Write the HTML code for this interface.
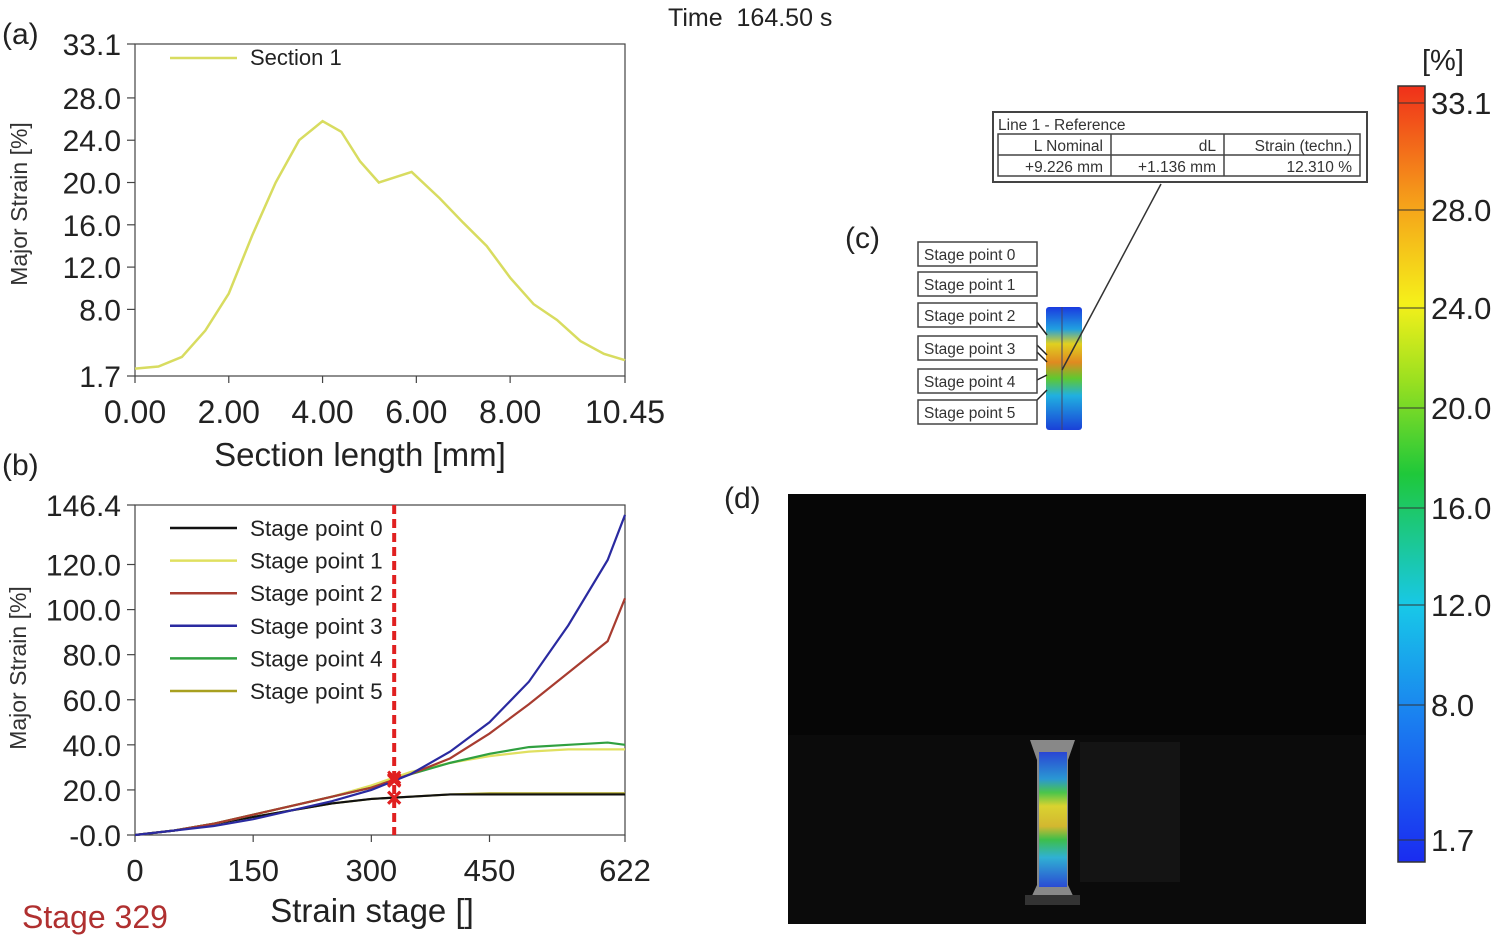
<!DOCTYPE html>
<html><head><meta charset="utf-8"><style>
body{margin:0;background:#fff;}
svg{display:block;font-family:"Liberation Sans",Arial,sans-serif;}
</style></head><body>
<svg id="fig" width="1500" height="945" viewBox="0 0 1500 945">
<defs>
<linearGradient id="cbar" x1="0" y1="1" x2="0" y2="0">
<stop offset="0" stop-color="#1a2cf0"/><stop offset="0.18" stop-color="#1a7df0"/>
<stop offset="0.33" stop-color="#18c8e8"/><stop offset="0.5" stop-color="#1fc83a"/>
<stop offset="0.62" stop-color="#9ae020"/><stop offset="0.72" stop-color="#f5f01a"/>
<stop offset="0.85" stop-color="#f5a01a"/><stop offset="1" stop-color="#f0301a"/>
</linearGradient>
<linearGradient id="spec" x1="0" y1="0" x2="0" y2="1">
<stop offset="0" stop-color="#1a3ae0"/><stop offset="0.2" stop-color="#1a9ae0"/>
<stop offset="0.3" stop-color="#40d040"/><stop offset="0.4" stop-color="#e8e020"/>
<stop offset="0.55" stop-color="#e0c020"/><stop offset="0.65" stop-color="#30c840"/>
<stop offset="0.78" stop-color="#20b8e0"/><stop offset="1" stop-color="#1a40e0"/>
</linearGradient>
<linearGradient id="spec2" x1="0" y1="0" x2="0" y2="1">
<stop offset="0" stop-color="#1a3ae0"/><stop offset="0.18" stop-color="#20a0e0"/>
<stop offset="0.3" stop-color="#e0d020"/><stop offset="0.45" stop-color="#e08a20"/>
<stop offset="0.58" stop-color="#60c830"/><stop offset="0.72" stop-color="#20b0e0"/>
<stop offset="1" stop-color="#1a40d8"/>
</linearGradient>
</defs>
<text x="668" y="26" font-size="25" fill="#222" xml:space="preserve">Time  164.50 s</text>
<text x="2" y="44" font-size="30" fill="#222">(a)</text>
<text x="2" y="475" font-size="30" fill="#222">(b)</text>
<text x="845" y="248" font-size="30" fill="#222">(c)</text>
<text x="724" y="508" font-size="30" fill="#222">(d)</text>
<g id="chartA"></g>
<g id="chartB"></g>
<text x="22" y="928" font-size="32" fill="#b03030">Stage 329</text>

<!-- panel c -->
<g>
<rect x="993" y="112" width="374" height="70" fill="#fff" stroke="#444" stroke-width="2"/>
<text x="998" y="130" font-size="15.5" fill="#333">Line 1 - Reference</text>
<rect x="998" y="134" width="362" height="42" fill="none" stroke="#444" stroke-width="1.5"/>
<line x1="998" y1="155" x2="1360" y2="155" stroke="#444" stroke-width="1.5"/>
<line x1="1111" y1="134" x2="1111" y2="176" stroke="#444" stroke-width="1.5"/>
<line x1="1224" y1="134" x2="1224" y2="176" stroke="#444" stroke-width="1.5"/>
<text x="1103" y="151" font-size="15.5" fill="#333" text-anchor="end">L Nominal</text>
<text x="1216" y="151" font-size="15.5" fill="#333" text-anchor="end">dL</text>
<text x="1352" y="151" font-size="15.5" fill="#333" text-anchor="end">Strain (techn.)</text>
<text x="1103" y="172" font-size="15.5" fill="#333" text-anchor="end">+9.226 mm</text>
<text x="1216" y="172" font-size="15.5" fill="#333" text-anchor="end">+1.136 mm</text>
<text x="1352" y="172" font-size="15.5" fill="#333" text-anchor="end">12.310 %</text>
<rect x="1046" y="307" width="36" height="123" rx="3" fill="url(#spec2)"/>
<line x1="1062" y1="307" x2="1062" y2="430" stroke="#446" stroke-width="1"/>
<line x1="1161" y1="184" x2="1062" y2="370" stroke="#333" stroke-width="1.5"/>
<g stroke="#222" stroke-width="1.5">
<line x1="1037" y1="322" x2="1047" y2="335"/><line x1="1037" y1="345" x2="1047" y2="355"/>
<line x1="1037" y1="352" x2="1047" y2="362"/><line x1="1037" y1="380" x2="1047" y2="375"/>
<line x1="1037" y1="400" x2="1047" y2="390"/>
</g>
<g id="spBoxes"></g>
</g>

<!-- colorbar -->
<g>
<text x="1422" y="70" font-size="29" fill="#222">[%]</text>
<rect x="1398" y="86" width="27" height="776" fill="url(#cbar)" stroke="#333" stroke-width="1.5"/>
<g id="cbTicks"></g>
</g>

<!-- panel d -->
<g>
<rect x="788" y="494" width="578" height="430" fill="#060606"/>
<rect x="788" y="735" width="578" height="189" fill="#0b0b0b"/>
<rect x="1080" y="742" width="100" height="140" fill="#1a1a1a" opacity="0.6"/>
<path d="M1030 740 L1075 740 L1068 760 L1068 885 L1075 900 L1030 900 L1037 885 L1037 760 Z" fill="#888"/>
<rect x="1039" y="752" width="28" height="135" fill="url(#spec)" opacity="0.85"/>
<rect x="1025" y="895" width="55" height="10" fill="#333"/>
</g>
</svg>
<script>
// ---- Panel (a) data ----
const secX=[0,0.5,1,1.5,2,2.5,3,3.5,4,4.4,4.8,5.2,5.9,6.5,7,7.5,8,8.5,9,9.5,10,10.45];
const secY=[2.4,2.6,3.5,6,9.5,15,20,24,25.8,24.8,22,20,21,18.5,16.2,14,11,8.5,7,5,3.8,3.2];
const aYTicks=[33.1,28.0,24.0,20.0,16.0,12.0,8.0,1.7];
const aXTicks=[0,2,4,6,8,10.45];
// ---- Panel (b) data ----
const stages=[0,50,100,150,200,250,300,350,400,450,500,550,600,622];
const sp0=[0,2,5,8,11,14,16,17,18,18,18,18,18,18];
const sp1=[0,2,5,9,13,17,22,28,32,35,37,38,38,38];
const sp2=[0,2,5,9,13,17,21,27,34,45,58,72,86,105];
const sp3=[0,2,4,7,11,15,20,27,37,50,68,93,122,142];
const sp4=[0,2,5,9,13,17,21,27,32,36,39,40,41,40];
const sp5=[0,2,5,8,11,14,16,17,18,18.5,18.5,18.5,18.5,18.5];
const bYTicks=[146.4,120,100,80,60,40,20,0];
const bXTicks=[0,150,300,450,622];
const curStage=329;
const cbTicks=[33.1,28.0,24.0,20.0,16.0,12.0,8.0,1.7];
const cbPos=[103,210,308,408,508,605,705,840];
const spNames=["Stage point 0","Stage point 1","Stage point 2","Stage point 3","Stage point 4","Stage point 5"];

const NS="http://www.w3.org/2000/svg";
function mk(tag,attrs,parent,txt){const e=document.createElementNS(NS,tag);for(const k in attrs)e.setAttribute(k,attrs[k]);if(txt!==undefined)e.textContent=txt;parent.appendChild(e);return e;}

// Chart A
(function(){
const g=document.getElementById('chartA');
const x0=135,x1=625,y0=376,y1=44;
const xs=v=>x0+(v/10.45)*(x1-x0), ys=v=>y0-(v-1.7)/(33.1-1.7)*(y0-y1);
mk('rect',{x:x0,y:y1,width:x1-x0,height:y0-y1,fill:'none',stroke:'#444','stroke-width':1.2},g);
aYTicks.forEach(t=>{const y=ys(t);
mk('line',{x1:x0-8,y1:y,x2:x0,y2:y,stroke:'#444','stroke-width':1.2},g);
const tx=mk('text',{x:x0-14,y:y+11,'font-size':30,'text-anchor':'end',fill:'#222'},g,t.toFixed(1));
});
aXTicks.forEach(t=>{const x=xs(t);
mk('line',{x1:x,y1:y0,x2:x,y2:y0+7,stroke:'#444','stroke-width':1.2},g);
const tx=mk('text',{x:x,y:y0+47,'font-size':32,'text-anchor':'middle',fill:'#222'},g,t.toFixed(2));
});
const yt=mk('text',{x:27,y:y0-172,'font-size':23,'text-anchor':'middle',fill:'#333',transform:`rotate(-90 27 ${y0-172})`},g,'Major Strain [%]');

const xt=mk('text',{x:360,y:466,'font-size':33,'text-anchor':'middle',fill:'#222'},g,'Section length [mm]');

const p=mk('polyline',{points:secX.map((v,i)=>xs(v)+','+ys(secY[i])).join(' '),fill:'none',stroke:'#d8dc60','stroke-width':2.5},g);

mk('line',{x1:170,y1:58,x2:237,y2:58,stroke:'#d8dc60','stroke-width':2.5},g);
const lt=mk('text',{x:250,y:65,'font-size':22,fill:'#222'},g,'Section 1');

})();

// Chart B
(function(){
const g=document.getElementById('chartB');
const x0=135,x1=625,y0=835,y1=505;
const xs=v=>x0+(v/622)*(x1-x0), ys=v=>y0-(v/146.4)*(y0-y1);
mk('rect',{x:x0,y:y1,width:x1-x0,height:y0-y1,fill:'none',stroke:'#444','stroke-width':1.2},g);
bYTicks.forEach(t=>{const y=ys(t);
mk('line',{x1:x0-8,y1:y,x2:x0,y2:y,stroke:'#444','stroke-width':1.2},g);
const tx=mk('text',{x:x0-14,y:y+11,'font-size':30,'text-anchor':'end',fill:'#222'},g,t===0?'-0.0':t.toFixed(1));
});
bXTicks.forEach(t=>{const x=xs(t);
mk('line',{x1:x,y1:y0,x2:x,y2:y0+7,stroke:'#444','stroke-width':1.2},g);
const tx=mk('text',{x:x,y:y0+46,'font-size':31,'text-anchor':'middle',fill:'#222'},g,String(t));
});
const yt=mk('text',{x:26,y:y0-167,'font-size':23,'text-anchor':'middle',fill:'#333',transform:`rotate(-90 26 ${y0-167})`},g,'Major Strain [%]');

const xt=mk('text',{x:372,y:922,'font-size':33,'text-anchor':'middle',fill:'#222'},g,'Strain stage []');

const series=[[sp0,'#111'],[sp1,'#e0e060'],[sp2,'#a83c30'],[sp3,'#2a2aa0'],[sp4,'#30a040'],[sp5,'#a8a020']];
[5,0,1,4,2,3].forEach(i=>{const [d,c]=series[i];
const p=mk('polyline',{points:stages.map((s,j)=>xs(s)+','+ys(d[j])).join(' '),fill:'none',stroke:c,'stroke-width':2.2},g);
});
series.forEach(([d,c],i)=>{const y=528+i*32.6;
mk('line',{x1:170,y1:y,x2:237,y2:y,stroke:c,'stroke-width':2.5},g);
const t=mk('text',{x:250,y:y+8,'font-size':22.5,fill:'#222'},g,spNames[i]);
});
const cx=xs(curStage);
const cl=mk('line',{x1:cx,y1:y1,x2:cx,y2:y0,stroke:'#e02020','stroke-width':4,'stroke-dasharray':'9,5'},g);

[sp0,sp1,sp2,sp3,sp4,sp5].forEach(d=>{
let j=stages.findIndex(s=>s>=curStage);const f=(curStage-stages[j-1])/(stages[j]-stages[j-1]);
const v=d[j-1]+f*(d[j]-d[j-1]);const y=ys(v);
mk('path',{d:`M${cx-6} ${y-6}L${cx+6} ${y+6}M${cx+6} ${y-6}L${cx-6} ${y+6}`,stroke:'#e02020','stroke-width':3},g);});
})();

// colorbar ticks
(function(){
const g=document.getElementById('cbTicks');
cbTicks.forEach((t,i)=>{const y=cbPos[i];
mk('line',{x1:1398,y1:y,x2:1425,y2:y,stroke:'#333','stroke-width':1},g);
const tx=mk('text',{x:1431,y:y+11,'font-size':31,fill:'#222'},g,t.toFixed(1));
});
})();

// stage point boxes
(function(){
const g=document.getElementById('spBoxes');
const ys=[242,272,303,336,369,400];
spNames.forEach((n,i)=>{const y=ys[i];
const r=mk('rect',{x:918,y:y,width:119,height:24,fill:'#fff',stroke:'#444','stroke-width':1.5},g);

mk('text',{x:924,y:y+18,'font-size':15.5,fill:'#333'},g,n);});
})();
</script>
</body></html>
